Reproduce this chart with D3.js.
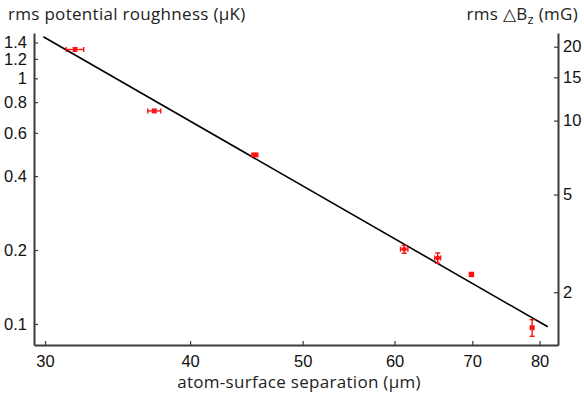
<!DOCTYPE html>
<html>
<head>
<meta charset="utf-8">
<script src="https://cdn.jsdelivr.net/npm/d3@7"></script>
<style>
  body { margin: 0; background: #fff; }
  svg { display: block; }
  .tick text { font-family: "Liberation Sans", Arial, sans-serif; font-size: 16.5px; fill: #111; }
  .title { font-family: "Open Sans", sans-serif; font-size: 17px; letter-spacing: 0.3px; fill: #222; }
</style>
</head>
<body>
<svg id="chart" width="584" height="396"></svg>
<script>
// measured points: separation (um), rms roughness (uK) and their errors
const separation = [31.84, 37.26, 45.48, 61.16, 65.36, 69.88, 78.82];
const separationErr = [0.55, 0.48, 0.27, 0.45, 0.38, 0.28, 0.28];
const roughness = [1.311, 0.737, 0.488, 0.2015, 0.1857, 0.1591, 0.0966];
const roughnessErr = [0.022, 0.012, 0.008, 0.0075, 0.009, 0.003, 0.0075];

// power-law fit line end points
const fitSeparation = [29.9, 81.3];
const fitRoughness = [1.478, 0.0974];

// tick labels
const xTicks = [30, 40, 50, 60, 70, 80];
const yTicks = [0.1, 0.2, 0.4, 0.6, 0.8, 1, 1.2, 1.4];
const yRightTicks = [2, 5, 10, 15, 20];

// uK -> mG conversion for the right axis
const mGperuK = 14.86;

const svg = d3.select("#chart");
const plot = { left: 34, right: 558, top: 33, bottom: 345 };

const x = d3.scaleLog().domain([29.35, 82.97]).range([plot.left, plot.right]);
const y = d3.scaleLog().domain([0.0821, 1.53]).range([plot.bottom, plot.top]);
const yR = d3.scaleLog()
    .domain(y.domain().map(v => v * mGperuK))
    .range([plot.bottom, plot.top]);

// axes, ticks pointing inward
const xAxis = svg.append("g")
    .attr("transform", `translate(0,${plot.bottom})`)
    .call(d3.axisBottom(x).tickValues(xTicks).tickFormat(d3.format("d"))
        .tickSizeInner(-4).tickSizeOuter(0).tickPadding(10));

const yAxis = svg.append("g")
    .attr("transform", `translate(${plot.left},0)`)
    .call(d3.axisLeft(y).tickValues(yTicks).tickFormat(d => String(d))
        .tickSizeInner(-4).tickSizeOuter(0).tickPadding(7));

const yAxisR = svg.append("g")
    .attr("transform", `translate(${plot.right},0)`)
    .call(d3.axisRight(yR).tickValues(yRightTicks).tickFormat(d3.format("d"))
        .tickSizeInner(-4).tickSizeOuter(0).tickPadding(5));

[xAxis, yAxis, yAxisR].forEach(g => {
    g.attr("font-family", null).attr("font-size", null);
    g.select(".domain").attr("stroke", "#3a3a3a").attr("stroke-width", 2);
    g.selectAll(".tick line").attr("stroke", "#3a3a3a").attr("stroke-width", 1.2);
});

// fit line
const line = d3.line()
    .x(d => x(d[0]))
    .y(d => y(d[1]));

svg.append("path")
    .datum(d3.zip(fitSeparation, fitRoughness))
    .attr("d", line)
    .attr("fill", "none")
    .attr("stroke", "#000")
    .attr("stroke-width", 1.6);

// data points with error bars
const pts = separation.map((d, i) => ({
    x: d, xe: separationErr[i], y: roughness[i], ye: roughnessErr[i]
}));

const cap = 2.5;
const red = "#ff1010";
const g = svg.append("g").attr("stroke", red).attr("stroke-width", 1.4);

pts.forEach(p => {
    const cx = x(p.x), cy = y(p.y);
    const x0 = x(p.x - p.xe), x1 = x(p.x + p.xe);
    const y0 = y(p.y - p.ye), y1 = y(p.y + p.ye);
    g.append("line").attr("x1", x0).attr("x2", x1).attr("y1", cy).attr("y2", cy);
    g.append("line").attr("x1", x0).attr("x2", x0).attr("y1", cy - cap).attr("y2", cy + cap);
    g.append("line").attr("x1", x1).attr("x2", x1).attr("y1", cy - cap).attr("y2", cy + cap);
    g.append("line").attr("x1", cx).attr("x2", cx).attr("y1", y0).attr("y2", y1);
    g.append("line").attr("x1", cx - cap).attr("x2", cx + cap).attr("y1", y0).attr("y2", y0);
    g.append("line").attr("x1", cx - cap).attr("x2", cx + cap).attr("y1", y1).attr("y2", y1);
    g.append("rect").attr("x", cx - 2).attr("y", cy - 2).attr("width", 4).attr("height", 4)
        .attr("fill", red).attr("stroke", "none");
});

// titles
svg.append("text").attr("class", "title")
    .attr("x", 8).attr("y", 20)
    .text("rms potential roughness (\u03bcK)");

const rt = svg.append("text").attr("class", "title")
    .attr("x", 578).attr("y", 20).attr("text-anchor", "end");
rt.append("tspan").text("rms  \u25b3B");
rt.append("tspan").attr("dy", 4).attr("font-size", 13).text("z");
rt.append("tspan").attr("dy", -4).text(" (mG)");

svg.append("text").attr("class", "title")
    .attr("x", 299).attr("y", 388).attr("text-anchor", "middle")
    .text("atom-surface separation (\u03bcm)");
</script>
</body>
</html>
